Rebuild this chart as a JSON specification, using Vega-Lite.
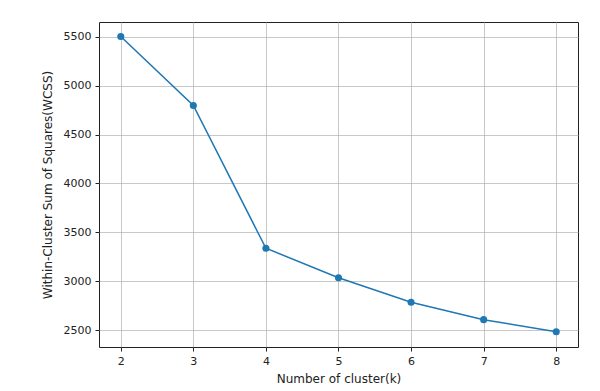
{
  "$schema": "https://vega.github.io/schema/vega-lite/v6.json",
  "width": 479,
  "height": 325,
  "autosize": {"type": "none"},
  "padding": {"left": 99, "top": 22, "right": 22, "bottom": 44},
  "background": "white",
  "config": {
    "font": "DejaVu Sans",
    "view": {"stroke": "#222222", "strokeWidth": 1},
    "axis": {
      "gridColor": "#b0b0b0",
      "gridOpacity": 0.7,
      "gridWidth": 1,
      "domain": false,
      "tickColor": "#222222",
      "tickSize": 4,
      "labelColor": "#222222",
      "labelFontSize": 11,
      "titleColor": "#222222",
      "titleFontSize": 12,
      "titleFontWeight": "normal"
    }
  },
  "data": {
    "values": [
      {"k": 2, "wcss": 5505},
      {"k": 3, "wcss": 4798},
      {"k": 4, "wcss": 3337},
      {"k": 5, "wcss": 3035},
      {"k": 6, "wcss": 2784},
      {"k": 7, "wcss": 2606},
      {"k": 8, "wcss": 2482}
    ]
  },
  "encoding": {
    "x": {
      "field": "k",
      "type": "quantitative",
      "scale": {"domain": [1.7, 8.3], "nice": false, "zero": false},
      "axis": {"values": [2, 3, 4, 5, 6, 7, 8], "format": "d", "title": "Number of cluster(k)", "titlePadding": 7, "labelPadding": 4}
    },
    "y": {
      "field": "wcss",
      "type": "quantitative",
      "scale": {"domain": [2326, 5653], "nice": false, "zero": false},
      "axis": {"values": [2500, 3000, 3500, 4000, 4500, 5000, 5500], "format": "d", "title": "Within-Cluster Sum of Squares(WCSS)", "titlePadding": 9, "labelPadding": 4}
    }
  },
  "layer": [
    {"mark": {"type": "line", "color": "#1f77b4", "strokeWidth": 1.5}},
    {"mark": {"type": "circle", "color": "#1f77b4", "size": 50, "opacity": 1}}
  ]
}
